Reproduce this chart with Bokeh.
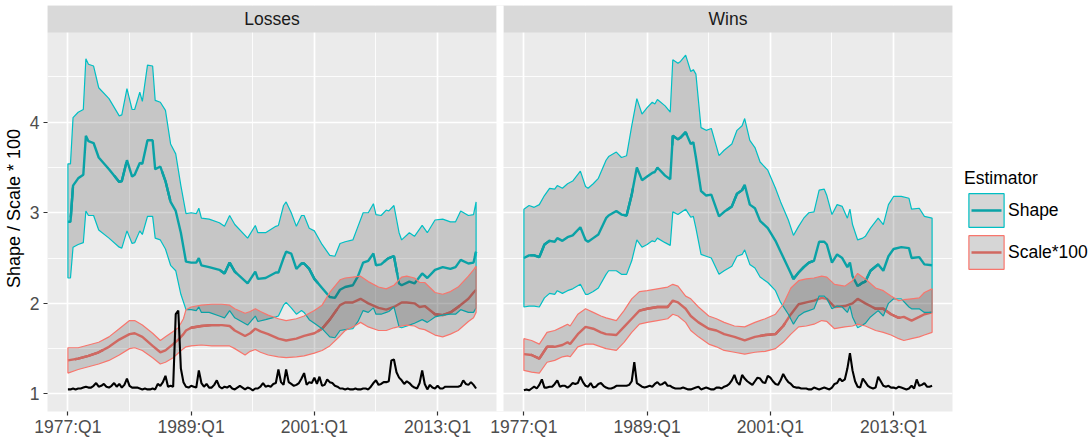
from bokeh.plotting import figure
from bokeh.models import Range1d, FixedTicker, BoxAnnotation, Label, Legend, LegendItem
from bokeh.embed import file_html
from bokeh.resources import INLINE

FONT = "Liberation Sans"
TEAL = "#00BFC4"
SALMON = "#F8766D"
TEAL_DARK = "#0AA3A7"
SALMON_DARK = "#D16961"

# ---------------- data ----------------
panel_names = ["Losses", "Wins"]
series_names = ["Shape", "Scale*100"]
y_title = "Shape / Scale * 100"
x_tick_years = [1977, 1989, 2001, 2013]
x_tick_labels = ["1977:Q1", "1989:Q1", "2001:Q1", "2013:Q1"]
x_minor_years = [1983, 1995, 2007]
y_ticks = [1, 2, 3, 4]
y_minor = [1.5, 2.5, 3.5, 4.5]

# Losses - Shape
loss_shape_t = [1977.0, 1977.25, 1977.5, 1978.0, 1978.5, 1978.75, 1979.0, 1979.5, 1980.0, 1981.0,
                1982.0, 1982.25, 1982.75, 1983.25, 1983.5, 1984.0, 1984.25, 1984.75, 1985.25, 1985.5,
                1986.0, 1986.5, 1987.0, 1987.5, 1988.0, 1988.5, 1989.0, 1989.5, 1989.75, 1990.0,
                1990.75, 1991.75, 1992.25, 1992.75, 1993.25, 1994.5, 1995.25, 1995.5, 1996.25, 1997.25,
                1997.5, 1998.0, 1998.25, 1998.75, 1999.25, 1999.75, 2000.0, 2000.5, 2001.0, 2001.75,
                2002.5, 2003.0, 2003.5, 2004.0, 2004.75, 2005.25, 2005.75, 2006.25, 2006.75, 2007.0,
                2007.5, 2008.0, 2008.25, 2008.75, 2009.25, 2009.5, 2010.25, 2010.75, 2011.5, 2012.0,
                2012.75, 2013.5, 2014.25, 2014.75, 2015.25, 2016.0, 2016.5, 2016.75]
loss_shape_mid = [2.90, 2.90, 3.30, 3.38, 3.42, 3.85, 3.79, 3.77, 3.61, 3.48,
                  3.34, 3.35, 3.58, 3.40, 3.42, 3.55, 3.54, 3.80, 3.80, 3.48,
                  3.51, 3.35, 3.12, 3.02, 2.78, 2.46, 2.45, 2.45, 2.50, 2.42,
                  2.40, 2.37, 2.33, 2.45, 2.35, 2.22, 2.35, 2.27, 2.28, 2.34,
                  2.34, 2.50, 2.57, 2.55, 2.38, 2.44, 2.44, 2.38, 2.27, 2.17,
                  2.07, 2.06, 2.15, 2.18, 2.20, 2.30, 2.45, 2.47, 2.55, 2.42,
                  2.43, 2.48, 2.50, 2.52, 2.22, 2.20, 2.24, 2.22, 2.33, 2.28,
                  2.37, 2.40, 2.38, 2.40, 2.48, 2.44, 2.45, 2.57]
loss_shape_hi = [3.54, 3.54, 4.05, 4.11, 4.14, 4.70, 4.64, 4.62, 4.38, 4.26,
                 4.07, 4.08, 4.37, 4.14, 4.14, 4.33, 4.23, 4.63, 4.62, 4.24,
                 4.22, 4.13, 3.76, 3.65, 3.30, 2.99, 3.00, 2.99, 3.05, 2.94,
                 2.93, 2.89, 2.85, 2.97, 2.87, 2.72, 2.86, 2.78, 2.78, 2.85,
                 2.86, 3.08, 3.12, 3.00, 2.85, 2.97, 2.97, 2.83, 2.80, 2.65,
                 2.53, 2.52, 2.66, 2.68, 2.70, 2.85, 3.00, 3.00, 3.10, 2.98,
                 2.97, 3.03, 3.02, 3.08, 2.78, 2.70, 2.78, 2.74, 2.86, 2.78,
                 2.92, 2.93, 2.90, 2.90, 3.02, 2.97, 2.98, 3.12]
loss_shape_lo = [2.28, 2.28, 2.62, 2.65, 2.67, 3.02, 2.97, 2.97, 2.81, 2.72,
                 2.62, 2.61, 2.80, 2.66, 2.67, 2.80, 2.76, 2.96, 2.96, 2.72,
                 2.70, 2.60, 2.42, 2.36, 2.10, 1.93, 1.93, 1.92, 1.96, 1.90,
                 1.90, 1.86, 1.84, 1.92, 1.84, 1.76, 1.86, 1.80, 1.82, 1.85,
                 1.86, 1.98, 2.01, 1.95, 1.88, 1.92, 1.90, 1.82, 1.78, 1.72,
                 1.63, 1.62, 1.70, 1.71, 1.72, 1.80, 1.92, 1.90, 1.95, 1.88,
                 1.88, 1.90, 1.91, 1.96, 1.74, 1.73, 1.76, 1.78, 1.82, 1.79,
                 1.85, 1.87, 1.88, 1.88, 1.93, 1.90, 1.90, 1.95]

# Losses - Scale*100
loss_scale_t = [1977.0, 1978.0, 1979.0, 1980.0, 1981.0, 1982.0, 1983.0, 1983.5, 1984.25, 1985.25,
                1986.0, 1986.5, 1987.25, 1987.75, 1988.25, 1988.5, 1989.0, 1990.0, 1991.0, 1992.0,
                1992.75, 1993.25, 1994.25, 1994.75, 1995.25, 1995.75, 1996.5, 1997.5, 1998.25, 1999.25,
                2000.0, 2001.0, 2001.75, 2002.5, 2003.5, 2004.0, 2004.75, 2005.5, 2006.25, 2007.25,
                2008.0, 2008.75, 2009.5, 2010.0, 2010.75, 2011.25, 2011.75, 2012.75, 2013.5, 2014.25,
                2015.0, 2016.0, 2016.5, 2016.75]
loss_scale_mid = [1.37, 1.39, 1.42, 1.46, 1.52, 1.60, 1.66, 1.67, 1.63, 1.53,
                  1.46, 1.48, 1.55, 1.60, 1.66, 1.70, 1.73, 1.75, 1.76, 1.76,
                  1.75, 1.70, 1.64, 1.67, 1.72, 1.69, 1.66, 1.61, 1.59, 1.61,
                  1.64, 1.67, 1.72, 1.82, 1.98, 2.01, 2.01, 2.05, 2.00, 1.95,
                  1.93, 1.96, 2.01, 2.01, 2.00, 1.96, 1.97, 1.88, 1.87, 1.90,
                  1.96, 2.05, 2.12, 2.15]
loss_scale_hi = [1.51, 1.51, 1.54, 1.57, 1.63, 1.72, 1.81, 1.81, 1.76, 1.67,
                 1.59, 1.63, 1.69, 1.73, 1.83, 1.93, 1.96, 1.98, 1.99, 1.99,
                 1.98, 1.94, 1.89, 1.91, 1.94, 1.91, 1.87, 1.83, 1.81, 1.83,
                 1.86, 1.92, 1.98, 2.12, 2.26, 2.28, 2.29, 2.30, 2.24, 2.18,
                 2.16, 2.20, 2.29, 2.30, 2.28, 2.23, 2.23, 2.12, 2.10, 2.13,
                 2.18, 2.30, 2.37, 2.41]
loss_scale_lo = [1.23, 1.27, 1.30, 1.33, 1.37, 1.43, 1.50, 1.51, 1.48, 1.40,
                 1.33, 1.35, 1.40, 1.45, 1.50, 1.52, 1.53, 1.54, 1.53, 1.53,
                 1.53, 1.50, 1.43, 1.47, 1.49, 1.46, 1.43, 1.41, 1.40, 1.41,
                 1.42, 1.45, 1.48, 1.53, 1.64, 1.70, 1.74, 1.79, 1.74, 1.70,
                 1.70, 1.73, 1.75, 1.76, 1.75, 1.72, 1.71, 1.65, 1.63, 1.66,
                 1.70, 1.80, 1.84, 1.90]

# Wins - Shape
win_shape_t = [1977.0, 1977.5, 1978.0, 1978.5, 1979.0, 1979.5, 1980.0, 1980.25, 1980.75, 1981.25,
               1981.75, 1982.5, 1983.0, 1983.25, 1983.75, 1984.25, 1985.0, 1985.25, 1986.0, 1986.5,
               1987.0, 1987.5, 1988.0, 1988.5, 1989.0, 1989.5, 1989.75, 1990.0, 1990.75, 1991.25,
               1991.5, 1992.0, 1992.25, 1992.75, 1993.25, 1993.5, 1993.75, 1994.25, 1994.75, 1995.25,
               1996.0, 1996.5, 1997.25, 1997.75, 1998.25, 1998.5, 1999.0, 1999.5, 2000.0, 2000.75,
               2001.5, 2002.0, 2002.75, 2003.25, 2003.75, 2004.25, 2004.75, 2005.25, 2005.75, 2006.25,
               2006.5, 2007.0, 2007.5, 2008.0, 2008.5, 2008.75, 2009.0, 2009.5, 2010.0, 2010.25,
               2010.75, 2011.5, 2012.0, 2012.5, 2013.0, 2013.75, 2014.5, 2014.75, 2015.5, 2016.0,
               2016.75]
win_shape_mid = [2.50, 2.53, 2.53, 2.51, 2.65, 2.69, 2.68, 2.72, 2.69, 2.73,
                 2.75, 2.84, 2.70, 2.68, 2.72, 2.76, 2.94, 2.97, 3.02, 2.98,
                 2.97, 3.20, 3.50, 3.36, 3.40, 3.44, 3.45, 3.50, 3.41, 3.37,
                 3.85, 3.81, 3.83, 3.89, 3.76, 3.78, 3.61, 3.24, 3.19, 3.20,
                 2.96, 3.01, 3.07, 3.21, 3.25, 3.31, 3.09, 3.05, 2.91, 2.83,
                 2.69, 2.57, 2.39, 2.27, 2.34, 2.40, 2.45, 2.47, 2.68, 2.68,
                 2.65, 2.45, 2.54, 2.50, 2.40, 2.45, 2.30, 2.19, 2.23, 2.24,
                 2.36, 2.43, 2.36, 2.52, 2.60, 2.62, 2.61, 2.50, 2.51, 2.43,
                 2.42]
win_shape_hi = [3.04, 3.08, 3.06, 3.09, 3.19, 3.27, 3.26, 3.30, 3.27, 3.32,
                3.35, 3.46, 3.29, 3.27, 3.32, 3.38, 3.58, 3.62, 3.67, 3.61,
                3.63, 3.96, 4.26, 4.09, 4.16, 4.22, 4.20, 4.25, 4.18, 4.11,
                4.69, 4.65, 4.67, 4.74, 4.56, 4.58, 4.53, 3.94, 3.91, 3.93,
                3.63, 3.69, 3.76, 3.91, 3.96, 4.04, 3.80, 3.72, 3.56, 3.47,
                3.27, 3.12, 2.92, 2.75, 2.85, 2.94, 3.00, 3.01, 3.25, 3.26,
                3.19, 2.98, 3.09, 3.07, 2.94, 3.04, 2.87, 2.70, 2.72, 2.74,
                2.83, 2.94, 2.87, 3.09, 3.18, 3.18, 3.16, 3.04, 3.05, 2.96,
                2.94]
win_shape_lo = [1.96, 1.97, 1.97, 1.96, 2.06, 2.11, 2.10, 2.14, 2.11, 2.14,
                2.16, 2.21, 2.10, 2.10, 2.13, 2.17, 2.32, 2.36, 2.36, 2.32,
                2.32, 2.47, 2.70, 2.62, 2.65, 2.69, 2.68, 2.72, 2.67, 2.64,
                3.01, 2.98, 3.00, 3.04, 2.95, 2.96, 2.83, 2.54, 2.52, 2.50,
                2.32, 2.36, 2.41, 2.52, 2.54, 2.59, 2.43, 2.39, 2.29, 2.23,
                2.14, 2.01, 1.88, 1.77, 1.86, 1.90, 1.92, 1.94, 2.08, 2.08,
                2.05, 1.94, 1.97, 1.96, 1.90, 1.97, 1.85, 1.73, 1.76, 1.78,
                1.85, 1.92, 1.86, 2.00, 2.05, 2.05, 1.96, 1.94, 1.94, 1.90,
                1.90]

# Wins - Scale*100
win_scale_t = [1977.0, 1977.75, 1978.5, 1979.25, 1980.0, 1980.75, 1981.25, 1981.5, 1982.25, 1983.0,
               1983.75, 1984.5, 1985.0, 1986.0, 1986.75, 1987.5, 1988.25, 1989.0, 1990.0, 1991.0,
               1991.5, 1992.0, 1992.75, 1993.25, 1994.0, 1995.0, 1995.75, 1996.5, 1997.5, 1998.5,
               1999.5, 2000.5, 2001.5, 2002.25, 2003.0, 2003.75, 2004.5, 2005.25, 2006.0, 2006.5,
               2007.25, 2008.25, 2009.0, 2009.5, 2010.25, 2011.25, 2012.0, 2012.75, 2013.5, 2014.0,
               2014.75, 2015.5, 2016.0, 2016.75]
win_scale_mid = [1.44, 1.43, 1.39, 1.52, 1.52, 1.54, 1.57, 1.55, 1.66, 1.74,
                 1.72, 1.68, 1.66, 1.65, 1.74, 1.83, 1.92, 1.94, 1.96, 1.96,
                 2.03, 2.01, 1.94, 1.86, 1.79, 1.72, 1.70, 1.66, 1.63, 1.59,
                 1.63, 1.65, 1.66, 1.75, 1.88, 1.99, 2.01, 2.03, 2.06, 2.05,
                 1.96, 1.97, 2.00, 2.05, 2.00, 1.94, 1.94, 1.88, 1.84, 1.85,
                 1.81, 1.85, 1.88, 1.90]
win_scale_hi = [1.61, 1.59, 1.55, 1.68, 1.70, 1.74, 1.77, 1.75, 1.88, 1.94,
                1.90, 1.86, 1.84, 1.81, 1.92, 2.05, 2.13, 2.14, 2.16, 2.18,
                2.21, 2.19, 2.08, 2.05, 1.96, 1.86, 1.83, 1.79, 1.75, 1.74,
                1.79, 1.83, 1.88, 1.99, 2.17, 2.25, 2.27, 2.28, 2.30, 2.29,
                2.21, 2.19, 2.25, 2.33, 2.27, 2.17, 2.14, 2.08, 2.03, 2.04,
                2.05, 2.06, 2.12, 2.16]
win_scale_lo = [1.26, 1.24, 1.23, 1.35, 1.37, 1.41, 1.42, 1.41, 1.52, 1.55,
                1.55, 1.52, 1.50, 1.48, 1.57, 1.68, 1.77, 1.79, 1.81, 1.83,
                1.88, 1.86, 1.79, 1.70, 1.63, 1.55, 1.52, 1.48, 1.46, 1.44,
                1.46, 1.47, 1.50, 1.57, 1.66, 1.74, 1.75, 1.77, 1.81, 1.80,
                1.72, 1.74, 1.75, 1.77, 1.75, 1.70, 1.68, 1.65, 1.61, 1.59,
                1.61, 1.63, 1.65, 1.68]

# quarterly series (black line), 1977:Q1 .. 2016:Q4
quarters = [1977 + i / 4 for i in range(160)]
loss_black = [1.05, 1.05, 1.06, 1.05, 1.06, 1.06, 1.07, 1.08, 1.07, 1.07,
              1.09, 1.12, 1.08, 1.09, 1.11, 1.08, 1.07, 1.09, 1.12, 1.08,
              1.11, 1.07, 1.10, 1.17, 1.09, 1.07, 1.07, 1.07, 1.06, 1.05,
              1.06, 1.05, 1.05, 1.06, 1.05, 1.11, 1.09, 1.13, 1.20, 1.08,
              1.09, 1.08, 1.88, 1.92, 1.28, 1.13, 1.08, 1.07, 1.09, 1.08,
              1.07, 1.26, 1.12, 1.08, 1.11, 1.07, 1.07, 1.10, 1.15, 1.08,
              1.06, 1.08, 1.07, 1.09, 1.06, 1.05, 1.07, 1.09, 1.07, 1.05,
              1.07, 1.06, 1.04, 1.06, 1.06, 1.08, 1.12, 1.08, 1.09, 1.08,
              1.11, 1.12, 1.27, 1.13, 1.10, 1.27, 1.13, 1.11, 1.09, 1.10,
              1.12, 1.17, 1.23, 1.10, 1.13, 1.12, 1.18, 1.11, 1.19, 1.09,
              1.10, 1.16, 1.13, 1.12, 1.09, 1.08, 1.06, 1.06, 1.05, 1.06,
              1.05, 1.05, 1.06, 1.05, 1.05, 1.06, 1.06, 1.05, 1.08, 1.12,
              1.15, 1.10, 1.11, 1.13, 1.13, 1.14, 1.37, 1.38, 1.24, 1.18,
              1.15, 1.11, 1.14, 1.12, 1.09, 1.07, 1.06, 1.12, 1.26, 1.11,
              1.05, 1.10, 1.07, 1.06, 1.09, 1.06, 1.06, 1.08, 1.08, 1.08,
              1.08, 1.08, 1.08, 1.09, 1.15, 1.11, 1.10, 1.13, 1.10, 1.06]
win_black = [1.04, 1.05, 1.04, 1.06, 1.08, 1.06, 1.10, 1.16, 1.07, 1.07,
             1.08, 1.08, 1.11, 1.15, 1.08, 1.09, 1.09, 1.07, 1.09, 1.12,
             1.11, 1.12, 1.19, 1.13, 1.09, 1.08, 1.12, 1.07, 1.08, 1.11,
             1.12, 1.09, 1.07, 1.06, 1.06, 1.07, 1.09, 1.09, 1.09, 1.09,
             1.09, 1.10, 1.14, 1.35, 1.12, 1.10, 1.08, 1.07, 1.08, 1.09,
             1.08, 1.11, 1.13, 1.10, 1.11, 1.13, 1.09, 1.09, 1.07, 1.06,
             1.06, 1.06, 1.07, 1.06, 1.05, 1.05, 1.06, 1.07, 1.08, 1.05,
             1.06, 1.07, 1.06, 1.05, 1.05, 1.07, 1.07, 1.06, 1.08, 1.09,
             1.11, 1.15, 1.21, 1.13, 1.10, 1.21, 1.17, 1.14, 1.12, 1.10,
             1.14, 1.18, 1.17, 1.13, 1.12, 1.20, 1.18, 1.14, 1.11, 1.10,
             1.15, 1.22, 1.17, 1.13, 1.11, 1.08, 1.07, 1.07, 1.06, 1.06,
             1.06, 1.05, 1.05, 1.07, 1.06, 1.05, 1.06, 1.07, 1.06, 1.05,
             1.07, 1.11, 1.12, 1.17, 1.14, 1.16, 1.28, 1.45, 1.26, 1.14,
             1.08, 1.07, 1.17, 1.13, 1.09, 1.07, 1.06, 1.07, 1.19, 1.14,
             1.09, 1.08, 1.09, 1.07, 1.07, 1.06, 1.08, 1.07, 1.06, 1.05,
             1.06, 1.09, 1.06, 1.16, 1.09, 1.10, 1.12, 1.08, 1.08, 1.09]

# ---------------- layout ----------------
PANEL_W = 449
GAP = 7
PANEL_H = 379
STRIP_H = 27
FRAME_W = 2 * PANEL_W + GAP
FRAME_H = PANEL_H + STRIP_H
LEFT = 45
TOP = 5
RIGHT = 138

pad = 0.05 * (quarters[-1] - quarters[0])
x_lo = quarters[0] - pad
x_hi = quarters[-1] + pad
u = (x_hi - x_lo) / PANEL_W
shift = (PANEL_W + GAP) * u

y_lo, y_hi = 0.806, 4.99
y_top = y_hi + STRIP_H * (y_hi - y_lo) / PANEL_H

p = figure(frame_width=FRAME_W, frame_height=FRAME_H,
           x_range=Range1d(x_lo, x_hi + shift), y_range=Range1d(y_lo, y_top),
           output_backend="svg", toolbar_location=None,
           min_border_left=LEFT, min_border_right=RIGHT, min_border_top=TOP, min_border_bottom=0)
p.extra_x_ranges = {"wins": Range1d(x_lo - shift, x_hi)}

p.background_fill_color = "#EBEBEB"
p.border_fill_color = "white"
p.outline_line_color = None

# x axis / grid
xt = FixedTicker(ticks=[t for t in x_tick_years] + [t + shift for t in x_tick_years],
                 minor_ticks=[t for t in x_minor_years] + [t + shift for t in x_minor_years])
p.xaxis.ticker = xt
overrides = {}
for t, lab in zip(x_tick_years, x_tick_labels):
    overrides[t] = lab
    overrides[t + shift] = lab
p.xaxis.major_label_overrides = overrides

yt = FixedTicker(ticks=y_ticks, minor_ticks=y_minor)
p.yaxis.ticker = yt
p.yaxis.axis_label = y_title

for ax in (p.xaxis[0], p.yaxis[0]):
    ax.axis_line_color = None
    ax.major_tick_line_color = "#333333"
    ax.major_tick_line_width = 1.2
    ax.major_tick_in = 0
    ax.major_tick_out = 4
    ax.minor_tick_line_color = None
    ax.major_label_text_font = FONT
    ax.major_label_text_font_size = "17.5px"
    ax.major_label_text_color = "#4D4D4D"
p.xaxis.major_label_standoff = 1
p.yaxis.major_label_standoff = 4
p.yaxis.axis_label_text_font = FONT
p.yaxis.axis_label_text_font_size = "18px"
p.yaxis.axis_label_text_font_style = "normal"
p.yaxis.axis_label_text_color = "black"
p.yaxis.axis_label_standoff = 3

for g in (p.xgrid[0], p.ygrid[0]):
    g.grid_line_color = "white"
    g.grid_line_width = 1.7
    g.minor_grid_line_color = "white"
    g.minor_grid_line_width = 0.85


def draw_panel(rng, ts, s_mid, s_hi, s_lo, tc, c_mid, c_hi, c_lo, black):
    # dashed copies lie exactly under the solid estimate lines; they only feed the legend key
    k_shape = p.line(ts, s_mid, line_color=TEAL_DARK, line_width=2.4, line_dash="0 7 30 100",
                     x_range_name=rng)
    k_scale = p.line(tc, c_mid, line_color=SALMON_DARK, line_width=2.4, line_dash="0 7 30 100",
                     x_range_name=rng)
    p.line(ts, s_mid, line_color=TEAL, line_width=2.4, x_range_name=rng)
    p.line(tc, c_mid, line_color=SALMON, line_width=2.4, x_range_name=rng)
    a_shape = p.patch(ts + ts[::-1], s_hi + s_lo[::-1], fill_color="#333333", fill_alpha=0.2,
                      line_color=TEAL, line_width=1.2, x_range_name=rng)
    a_scale = p.patch(tc + tc[::-1], c_hi + c_lo[::-1], fill_color="#333333", fill_alpha=0.2,
                      line_color=SALMON, line_width=1.2, x_range_name=rng)
    p.line(quarters, black, line_color="black", line_width=2.1, x_range_name=rng)
    return (a_shape, k_shape), (a_scale, k_scale)


keys = draw_panel("default", loss_shape_t, loss_shape_mid, loss_shape_hi, loss_shape_lo,
                  loss_scale_t, loss_scale_mid, loss_scale_hi, loss_scale_lo, loss_black)
draw_panel("wins", win_shape_t, win_shape_mid, win_shape_hi, win_shape_lo,
           win_scale_t, win_scale_mid, win_scale_hi, win_scale_lo, win_black)

# facet strips and panel gap
for rng, name in zip(["default", "wins"], panel_names):
    p.add_layout(BoxAnnotation(left=x_lo, right=x_hi, bottom=y_hi, top=y_top, x_range_name=rng,
                               fill_color="#D9D9D9", fill_alpha=1.0, line_alpha=0))
    p.add_layout(Label(x=(x_lo + x_hi) / 2, y=(y_hi + y_top) / 2, text=name, x_range_name=rng,
                       text_align="center", text_baseline="middle", text_font=FONT,
                       text_font_size="17.5px", text_color="#1A1A1A"))
p.add_layout(BoxAnnotation(left=x_hi, right=x_lo + shift, bottom=y_lo, top=y_top,
                           fill_color="white", fill_alpha=1.0, line_alpha=0))

LEG_H = 103
legend = Legend(items=[LegendItem(label=series_names[0], renderers=list(keys[0])),
                       LegendItem(label=series_names[1], renderers=list(keys[1]))],
                title="Estimator", location=(12, FRAME_H - 165 - LEG_H + TOP - 5),
                title_text_font=FONT, title_text_font_size="17.5px", title_text_font_style="normal",
                title_text_color="black", title_standoff=0,
                label_text_font=FONT, label_text_font_size="17.5px", label_text_color="black",
                glyph_width=44, glyph_height=42, label_standoff=0, spacing=-6,
                padding=2, margin=0, background_fill_color="white", border_line_color=None)
p.add_layout(legend, "right")

open("out.html", "w").write(file_html(p, INLINE))
